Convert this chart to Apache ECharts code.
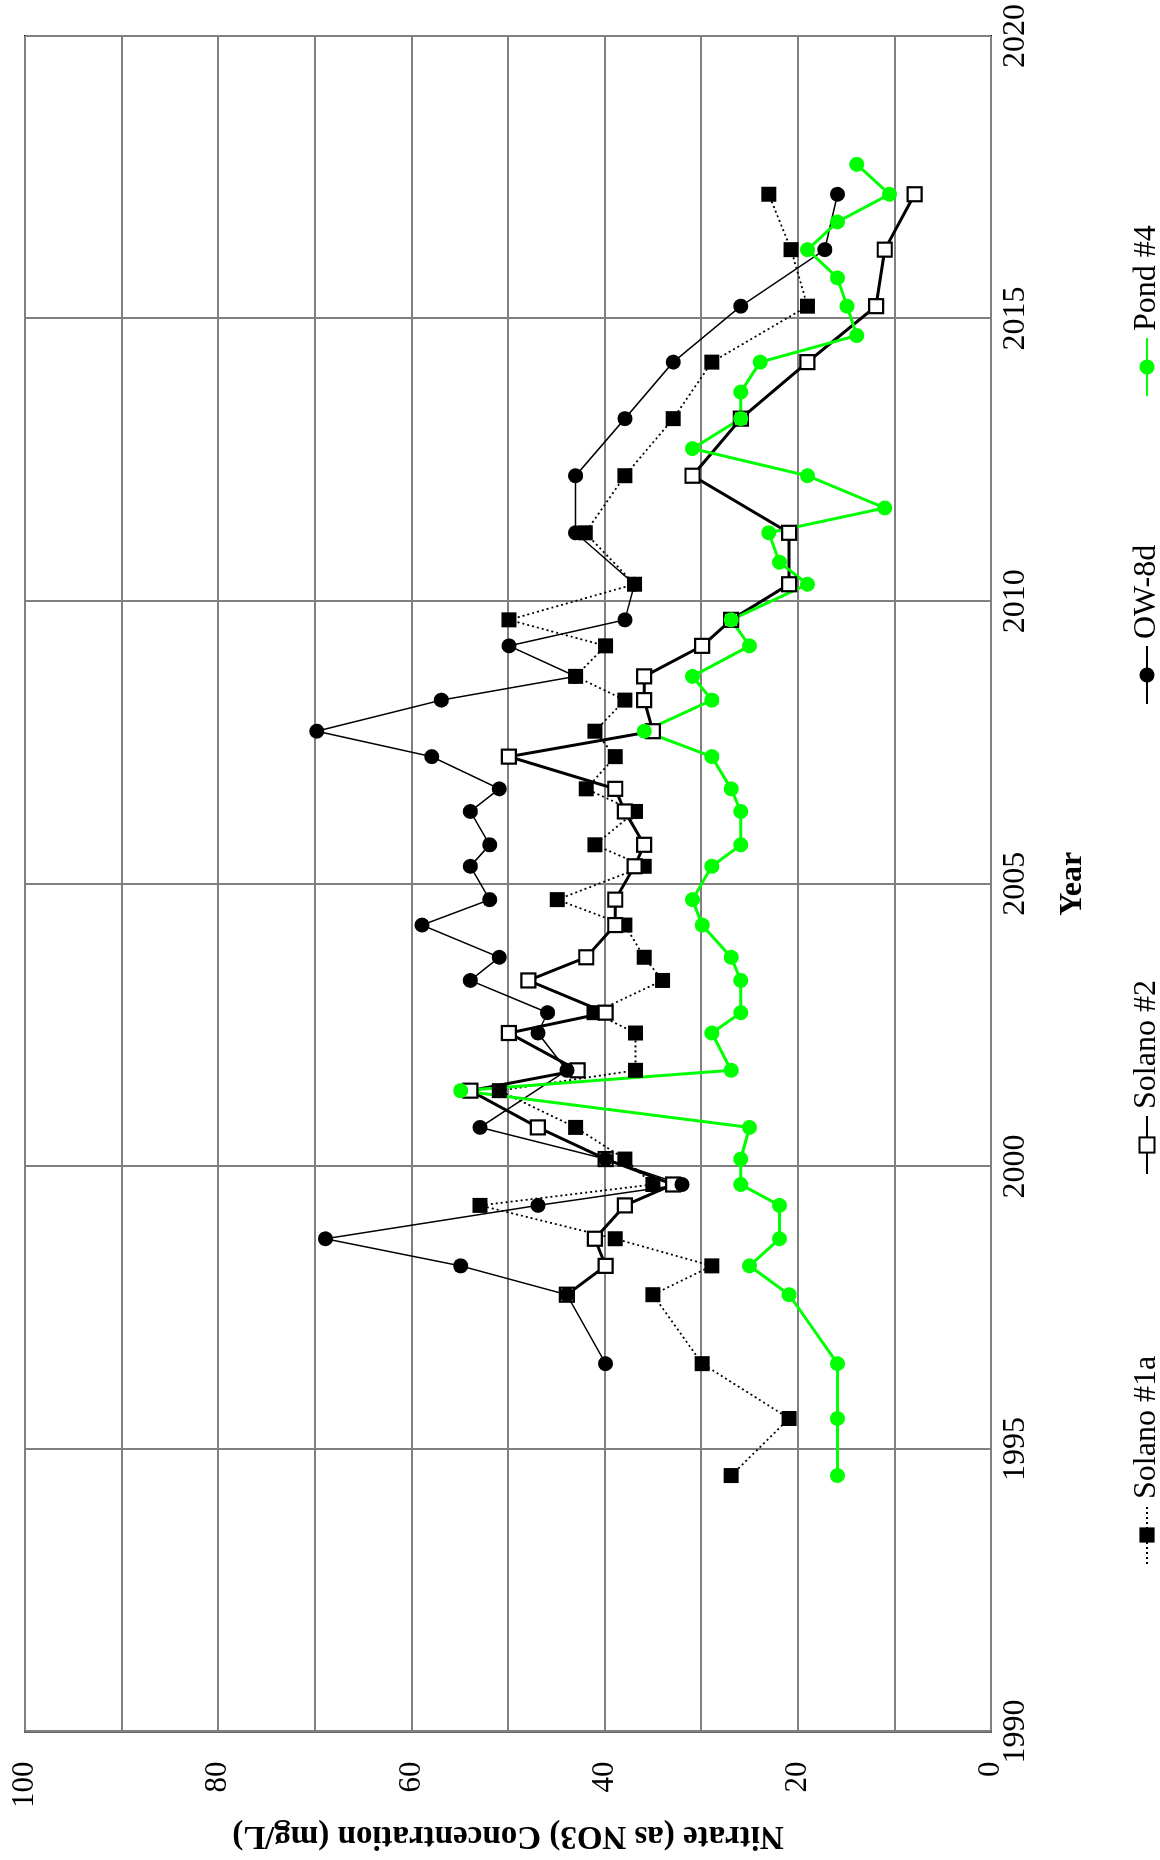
<!DOCTYPE html>
<html>
<head>
<meta charset="utf-8">
<script src="https://cdn.jsdelivr.net/npm/echarts@6/dist/echarts.min.js"></script>
<style>
  html, body { margin: 0; padding: 0; background: #fff; overflow: hidden; width: 1160px; height: 1860px; }
  #chart { position: absolute; left: 0; top: 0; width: 1860px; height: 1160px;
           transform-origin: 0 0; transform: translateY(1860px) rotate(-90deg); }
</style>
</head>
<body>
<div id="chart"></div>
<script>
// Sampling dates (decimal years)
const sampleYears = [1994.53, 1995.54, 1996.51, 1997.73, 1998.24, 1998.72, 1999.31, 1999.68, 2000.13, 2000.69,
  2001.34, 2001.70, 2002.36, 2002.72, 2003.29, 2003.70, 2004.27, 2004.72, 2005.31, 2005.69,
  2006.28, 2006.68, 2007.25, 2007.70, 2008.25, 2008.67, 2009.21, 2009.67, 2010.30, 2010.69,
  2011.21, 2011.65, 2012.22, 2012.70, 2013.23, 2013.70, 2014.23, 2014.70, 2015.22, 2015.72,
  2016.22, 2016.71, 2017.20, 2017.73];

// Nitrate (as NO3) mg/L, null = no sample
const solano1a = [26.9, 20.9, 29.9, 35.0, 28.9, 38.9, 52.9, 35.0, 37.9, 43.0,
  50.9, 36.8, 36.8, 41.1, 34.0, 35.9, 37.9, 44.9, 35.9, 41.0,
  36.8, 41.9, 38.9, 41.0, 37.9, 43.0, 39.9, 49.9, 36.9, null,
  42.0, null, 37.9, null, 32.9, null, 28.9, null, 19.0, null,
  20.7, null, 23.0, null];
const solano2 = [null, null, null, 43.9, 39.9, 41.0, 37.9, 32.9, 39.9, 46.9,
  53.9, 42.8, 49.9, 39.9, 47.9, 41.9, 38.9, 38.9, 36.9, 35.9,
  37.9, 38.9, 49.9, 35.0, 35.9, 35.9, 29.9, 26.9, 20.9, null,
  20.9, null, 30.9, null, 25.9, null, 19.0, null, 11.9, null,
  11.0, null, 7.9, null];
const ow8d = [null, null, 39.9, 43.9, 54.9, 68.9, 46.9, 32.0, 39.9, 52.9,
  null, 43.9, 46.9, 45.9, 53.9, 50.9, 58.9, 51.9, 53.9, 51.9,
  53.9, 50.9, 57.9, 69.8, 56.9, 43.0, 49.9, 37.9, 36.9, null,
  43.0, null, 43.0, null, 37.9, null, 32.9, null, 25.9, null,
  17.2, null, 15.9, null];
const pond4 = [15.9, 15.9, 15.9, 20.9, 25.0, 21.9, 21.9, 25.9, 25.9, 25.0,
  54.9, 26.9, 28.9, 25.9, 25.9, 26.9, 29.9, 30.9, 28.9, 25.9,
  25.9, 26.9, 28.9, 35.9, 28.9, 30.9, 25.0, 26.9, 19.0, 21.9,
  23.0, 11.0, 19.0, 30.9, 25.9, 25.9, 23.9, 13.9, 14.9, 15.9,
  19.0, 15.9, 10.5, 13.9];

const seriesNames = ['Solano #1a', 'Solano #2', 'OW-8d', 'Pond #4'];
const yearAxisName = 'Year';
const valueAxisName = 'Nitrate (as NO3) Concentration (mg/L)';

function pairs(vals) {
  const out = [];
  sampleYears.forEach((y, i) => { if (vals[i] !== null) out.push([y, vals[i]]); });
  return out;
}

const FONT = '"Liberation Serif", "Times New Roman", serif';
const chart = echarts.init(document.getElementById('chart'), null, { renderer: 'canvas' });

const legendLeft = [290, 680, 1150, 1458];
const legends = seriesNames.map((n, i) => ({
  data: [n], left: legendLeft[i], top: 1126, orient: 'horizontal',
  itemWidth: 58, itemHeight: 19, itemGap: 0, selectedMode: false,
  textStyle: { fontFamily: FONT, fontSize: 32, color: '#000', padding: [0, 0, 0, 2] }
}));

chart.setOption({
  animation: false,
  backgroundColor: '#fff',
  legend: legends,
  grid: { left: 118, right: 36, top: 25, bottom: 169, show: true, borderColor: '#000', borderWidth: 2, backgroundColor: 'transparent' },
  xAxis: {
    type: 'value', min: 1990, max: 2020, interval: 5,
    name: yearAxisName, nameLocation: 'middle', nameGap: 66,
    nameTextStyle: { fontFamily: FONT, fontSize: 32, fontWeight: 'bold', color: '#000' },
    axisLine: { show: false }, axisTick: { show: false },
    axisLabel: { fontFamily: FONT, fontSize: 32, color: '#000', margin: 9, formatter: v => String(v) },
    splitLine: { show: true, lineStyle: { color: '#808080', width: 2 } }
  },
  yAxis: {
    type: 'value', min: 0, max: 100, interval: 10,
    name: valueAxisName, nameLocation: 'middle', nameGap: 68, nameRotate: 90,
    nameTextStyle: { fontFamily: FONT, fontSize: 33, fontWeight: 'bold', color: '#000' },
    axisLine: { show: false }, axisTick: { show: false },
    axisLabel: { fontFamily: FONT, fontSize: 31, color: '#000', margin: 30,
      formatter: v => (v % 20 === 0 ? String(v) : '') },
    splitLine: { show: true, lineStyle: { color: '#808080', width: 2 } }
  },
  series: [
    { name: seriesNames[0], type: 'line', data: pairs(solano1a), showAllSymbol: true,
      symbol: 'rect', symbolSize: 15,
      lineStyle: { color: '#000', width: 1.8, type: [2, 3] },
      itemStyle: { color: '#000' } },
    { name: seriesNames[1], type: 'line', data: pairs(solano2), showAllSymbol: true,
      symbol: 'rect', symbolSize: 14,
      lineStyle: { color: '#000', width: 3 },
      itemStyle: { color: '#fff', borderColor: '#000', borderWidth: 2.2 } },
    { name: seriesNames[2], type: 'line', data: pairs(ow8d), showAllSymbol: true,
      symbol: 'circle', symbolSize: 15,
      lineStyle: { color: '#000', width: 1.5 },
      itemStyle: { color: '#000' } },
    { name: seriesNames[3], type: 'line', data: pairs(pond4), showAllSymbol: true,
      symbol: 'circle', symbolSize: 15,
      lineStyle: { color: '#00ff00', width: 3 },
      itemStyle: { color: '#00ff00' } }
  ]
});
</script>
</body>
</html>
